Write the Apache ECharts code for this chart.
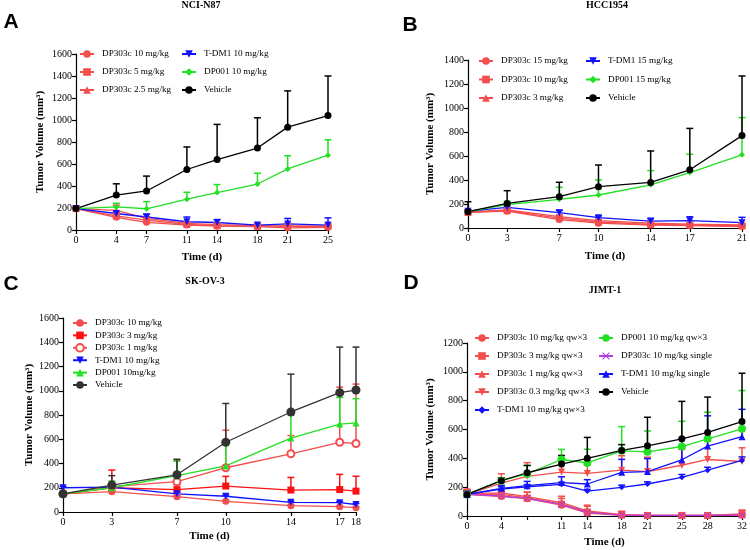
<!DOCTYPE html>
<html><head><meta charset="utf-8">
<script src="https://cdn.jsdelivr.net/npm/echarts@6/dist/echarts.min.js"></script>
<style>html,body{margin:0;padding:0;background:#fff}#c{width:750px;height:550px}</style>
</head><body><div id="c"></div>
<script>
// ---------- data ----------
const daysA = [0, 4, 7, 11, 14, 18, 21, 25];
const daysB = [0, 3, 7, 10, 14, 17, 21];
const daysC = [0, 3, 7, 10, 14, 17, 18];
const daysD = [0, 4, 7, 11, 14, 18, 21, 25, 28, 32];
const labelsD = [0, 4, 11, 14, 18, 21, 25, 28, 32];

// Panel A: NCI-N87 (mean, upper SEM)
const a_dp10 = [195, 115, 70, 45, 35, 30, 20, 25];
const a_dp10_err = [8, 10, 8, 6, 5, 5, 5, 5];
const a_dp5 = [195, 128, 90, 50, 40, 35, 38, 35];
const a_dp5_err = [8, 15, 12, 8, 6, 5, 15, 10];
const a_dp25 = [195, 178, 105, 60, 48, 40, 35, 32];
const a_dp25_err = [8, 48, 15, 10, 8, 6, 6, 6];
const a_tdm1 = [195, 150, 118, 75, 68, 45, 55, 45];
const a_tdm1_err = [10, 15, 27, 43, 27, 12, 50, 65];
const a_dp001 = [195, 210, 193, 280, 340, 418, 555, 680];
const a_dp001_err = [10, 33, 65, 63, 73, 98, 120, 140];
const a_veh = [195, 318, 355, 550, 640, 745, 935, 1040];
const a_veh_err = [10, 102, 135, 205, 320, 275, 330, 360];

// Panel B: HCC1954
const b_dp15 = [130, 140, 70, 40, 25, 20, 12];
const b_dp15_err = [12, 8, 10, 8, 6, 6, 6];
const b_dp10 = [130, 145, 82, 50, 30, 25, 18];
const b_dp10_err = [15, 10, 12, 10, 8, 8, 8];
const b_dp3 = [135, 150, 95, 62, 40, 32, 25];
const b_dp3_err = [15, 10, 14, 12, 10, 8, 8];
const b_tdm1 = [140, 172, 128, 86, 58, 61, 44];
const b_tdm1_err = [10, 10, 20, 15, 20, 33, 45];
const b_dp001 = [136, 195, 239, 275, 360, 462, 610];
const b_dp001_err = [10, 28, 100, 125, 118, 153, 310];
const b_veh = [136, 205, 261, 344, 380, 485, 770];
const b_veh_err = [83, 106, 120, 181, 262, 345, 497];

// Panel C: SK-OV-3
const c_dp10 = [150, 168, 126, 88, 52, 44, 36];
const c_dp10_err = [10, 8, 10, 8, 6, 6, 6];
const c_dp3 = [150, 200, 185, 214, 181, 185, 172];
const c_dp3_err = [10, 146, 40, 80, 104, 125, 123];
const c_dp1 = [150, 210, 250, 365, 480, 575, 565];
const c_dp1_err = [10, 40, 175, 310, 150, 455, 490];
const c_tdm1 = [200, 205, 150, 130, 80, 77, 62];
const c_tdm1_err = [10, 10, 12, 10, 8, 8, 8];
const c_dp001 = [150, 200, 300, 380, 610, 725, 735];
const c_dp001_err = [10, 55, 120, 180, 190, 220, 200];
const c_veh = [150, 222, 307, 575, 825, 984, 1006];
const c_veh_err = [10, 78, 128, 320, 312, 376, 354];

// Panel D: JIMT-1
const d_dp10 = [150, 135, 120, 75, 20, 5, 3, 3, 3, 5];
const d_dp10_err = [30, 15, 20, 20, 15, 8, 5, 5, 5, 8];
const d_dp3 = [150, 150, 125, 82, 28, 8, 4, 4, 4, 10];
const d_dp3_err = [35, 25, 40, 40, 40, 25, 15, 10, 10, 30];
const d_dp1 = [155, 160, 135, 92, 35, 10, 5, 5, 5, 15];
const d_dp1_err = [30, 20, 30, 45, 40, 20, 12, 8, 8, 25];
const d_dp03 = [150, 228, 275, 305, 295, 318, 308, 352, 392, 378];
const d_dp03_err = [30, 65, 95, 70, 60, 100, 100, 110, 130, 95];
const d_tdm1q = [150, 187, 203, 220, 173, 199, 222, 268, 318, 385];
const d_tdm1q_err = [20, 15, 15, 15, 12, 15, 15, 20, 20, 25];
const d_dp001 = [150, 245, 292, 392, 368, 452, 445, 482, 535, 605];
const d_dp001_err = [20, 20, 60, 70, 95, 168, 145, 175, 185, 265];
const d_single = [150, 140, 122, 80, 25, 6, 4, 4, 4, 6];
const d_single_err = [25, 15, 15, 15, 10, 6, 4, 4, 4, 6];
const d_tdm1s = [150, 192, 210, 232, 222, 303, 308, 390, 485, 550];
const d_tdm1s_err = [20, 20, 30, 40, 30, 90, 90, 150, 210, 190];
const d_veh = [150, 245, 300, 360, 400, 455, 487, 535, 580, 655];
const d_veh_err = [20, 20, 50, 60, 145, 40, 198, 260, 245, 335];

// ---------- styles ----------
const RED = '#f34e4e', RED2 = '#ff1010', BLUE = '#1212ff', GREEN = '#22e022',
      BLACK = '#000000', GREY = '#333333', PURPLE = '#b23de6';
const SERIF = '"Liberation Serif","Times New Roman",serif';
const XSYM = 'path://M0,1L1,0L5,4L9,0L10,1L6,5L10,9L9,10L5,6L1,10L0,9L4,5Z';

const series = [];
function add(gi, tag, name, days, mean, err, color, symbol, size, extra) {
  const full = tag + '|' + name;
  series.push(Object.assign({
    type: 'line', name: full, xAxisIndex: gi, yAxisIndex: gi,
    data: days.map((d, i) => [d, mean[i]]),
    symbol: symbol, symbolSize: size,
    lineStyle: { color: color, width: 1.3 },
    itemStyle: { color: color },
    emphasis: { disabled: true }, animation: false, z: 3
  }, extra || {}));
  series.push({
    type: 'custom', name: 'err-' + full, xAxisIndex: gi, yAxisIndex: gi,
    data: days.map((d, i) => [d, mean[i], mean[i] + err[i]]),
    encode: { x: 0, y: [1, 2] }, animation: false, z: 2,
    renderItem: function (params, api) {
      const p1 = api.coord([api.value(0), api.value(1)]);
      const p2 = api.coord([api.value(0), api.value(2)]);
      return { type: 'group', children: [
        { type: 'line', shape: { x1: p1[0], y1: p1[1], x2: p2[0], y2: p2[1] }, style: { stroke: color, lineWidth: 1.5 } },
        { type: 'line', shape: { x1: p2[0] - 3.5, y1: p2[1], x2: p2[0] + 3.5, y2: p2[1] }, style: { stroke: color, lineWidth: 1.5 } }
      ]};
    }
  });
  return full;
}

// Panel A
const A1 = [
  add(0, 'A', 'DP303c 10 mg/kg', daysA, a_dp10, a_dp10_err, RED, 'circle', 7),
  add(0, 'A', 'DP303c 5 mg/kg', daysA, a_dp5, a_dp5_err, RED, 'rect', 7),
  add(0, 'A', 'DP303c 2.5 mg/kg', daysA, a_dp25, a_dp25_err, RED, 'triangle', 7)];
const A2 = [
  add(0, 'A', 'T-DM1 10 mg/kg', daysA, a_tdm1, a_tdm1_err, BLUE, 'triangle', 7, { symbolRotate: 180 }),
  add(0, 'A', 'DP001 10 mg/kg', daysA, a_dp001, a_dp001_err, GREEN, 'diamond', 6),
  add(0, 'A', 'Vehicle', daysA, a_veh, a_veh_err, BLACK, 'circle', 7)];
// Panel B
const B1 = [
  add(1, 'B', 'DP303c 15 mg/kg', daysB, b_dp15, b_dp15_err, RED, 'circle', 7),
  add(1, 'B', 'DP303c 10 mg/kg', daysB, b_dp10, b_dp10_err, RED, 'rect', 7),
  add(1, 'B', 'DP303c 3 mg/kg', daysB, b_dp3, b_dp3_err, RED, 'triangle', 7)];
const B2 = [
  add(1, 'B', 'T-DM1 15 mg/kg', daysB, b_tdm1, b_tdm1_err, BLUE, 'triangle', 7, { symbolRotate: 180 }),
  add(1, 'B', 'DP001 15 mg/kg', daysB, b_dp001, b_dp001_err, GREEN, 'diamond', 6),
  add(1, 'B', 'Vehicle', daysB, b_veh, b_veh_err, BLACK, 'circle', 7)];
// Panel C
const C1 = [
  add(2, 'C', 'DP303c 10 mg/kg', daysC, c_dp10, c_dp10_err, RED, 'circle', 7),
  add(2, 'C', 'DP303c 3 mg/kg', daysC, c_dp3, c_dp3_err, RED2, 'rect', 7),
  add(2, 'C', 'DP303c 1 mg/kg', daysC, c_dp1, c_dp1_err, RED, 'emptyCircle', 7),
  add(2, 'C', 'T-DM1 10 mg/kg', daysC, c_tdm1, c_tdm1_err, BLUE, 'triangle', 7, { symbolRotate: 180 }),
  add(2, 'C', 'DP001 10mg/kg', daysC, c_dp001, c_dp001_err, GREEN, 'triangle', 7),
  add(2, 'C', 'Vehicle', daysC, c_veh, c_veh_err, GREY, 'circle', 9)];
// Panel D
const D1 = [
  add(3, 'D', 'DP303c 10 mg/kg qw×3', daysD, d_dp10, d_dp10_err, RED, 'circle', 7),
  add(3, 'D', 'DP303c 3 mg/kg qw×3', daysD, d_dp3, d_dp3_err, RED, 'rect', 7),
  add(3, 'D', 'DP303c 1 mg/kg qw×3', daysD, d_dp1, d_dp1_err, RED, 'triangle', 7),
  add(3, 'D', 'DP303c 0.3 mg/kg qw×3', daysD, d_dp03, d_dp03_err, RED, 'triangle', 7, { symbolRotate: 180 }),
  add(3, 'D', 'T-DM1 10 mg/kg qw×3', daysD, d_tdm1q, d_tdm1q_err, BLUE, 'diamond', 6)];
const D2 = [
  add(3, 'D', 'DP001 10 mg/kg qw×3', daysD, d_dp001, d_dp001_err, GREEN, 'circle', 8),
  add(3, 'D', 'DP303c 10 mg/kg single', daysD, d_single, d_single_err, PURPLE, XSYM, 7),
  add(3, 'D', 'T-DM1 10 mg/kg single', daysD, d_tdm1s, d_tdm1s_err, BLUE, 'triangle', 7),
  add(3, 'D', 'Vehicle', daysD, d_veh, d_veh_err, BLACK, 'circle', 7)];

// ---------- layout ----------
const grids = [
  { left: 76, top: 54, width: 252, height: 176 },
  { left: 468, top: 60, width: 278, height: 168 },
  { left: 63, top: 318, width: 293, height: 194 },
  { left: 467, top: 343, width: 275, height: 173 }];
const yMax = [1600, 1400, 1600, 1200];
const xMax = [25, 21, 18, 32];
const xTicks = [daysA, daysB, daysC, daysD];
const xLabels = [daysA, daysB, daysC, labelsD];
const yGap = [30, 32, 28, 31];
const xGap = [22, 23, 19, 21];

const nameStyle = { fontFamily: SERIF, fontSize: 11, fontWeight: 'bold', color: '#000' };
const xAxis = grids.map((g, i) => ({
  type: 'value', gridIndex: i, min: 0, max: xMax[i],
  axisLine: { show: true, onZero: false, lineStyle: { color: '#000', width: 1.2 } },
  axisTick: { show: true, length: 4, customValues: xTicks[i], lineStyle: { color: '#000', width: 1.2 } },
  axisLabel: { customValues: xLabels[i], fontFamily: SERIF, fontSize: 10, color: '#000', margin: 5 },
  splitLine: { show: false },
  name: 'Time (d)', nameLocation: 'middle', nameGap: xGap[i], nameTextStyle: nameStyle
}));
const yAxis = grids.map((g, i) => ({
  type: 'value', gridIndex: i, min: 0, max: yMax[i], interval: 200,
  axisLine: { show: true, onZero: false, lineStyle: { color: '#000', width: 1.2 } },
  axisTick: { show: true, length: 4, lineStyle: { color: '#000', width: 1.2 } },
  axisLabel: { formatter: v => String(v), fontFamily: SERIF, fontSize: 10, color: '#000', margin: 4 },
  splitLine: { show: false },
  name: 'Tumor Volume (mm³)', nameLocation: 'middle', nameGap: yGap[i], nameTextStyle: nameStyle
}));

function legend(data, left, top, gap) {
  return {
    data: data, orient: 'vertical', left: left, top: top, padding: 0,
    itemWidth: 14, itemHeight: 9.5, itemGap: gap, selectedMode: false,
    formatter: n => n.split('|')[1],
    textStyle: { fontFamily: SERIF, fontSize: 9.2, color: '#000', lineHeight: 10, padding: [0, 0, 0, 3] }
  };
}
const legends = [
  legend(A1, 79, 49, 8), legend(A2, 181, 49, 8),
  legend(B1, 478, 56, 8.5), legend(B2, 585, 56, 8.5),
  legend(C1, 72, 318, 2.4),
  legend(D1, 474, 333, 8), legend(D2, 598, 333, 8)];

function txt(t, x, y, font) {
  return { type: 'text', x: x, y: y, silent: true,
    style: { text: t, font: font, fill: '#000', textAlign: 'center', textVerticalAlign: 'middle' } };
}
const TF = 'bold 10px "Liberation Serif", serif';
const LF = 'bold 21px "Liberation Sans", Arial, sans-serif';
const graphic = [
  txt('NCI-N87', 201, 5, TF), txt('HCC1954', 607, 5, TF),
  txt('SK-OV-3', 205, 281, TF), txt('JIMT-1', 605, 290, TF),
  txt('A', 11, 22, LF), txt('B', 410, 25, LF), txt('C', 11, 284, LF), txt('D', 411, 283, LF)];

const chart = echarts.init(document.getElementById('c'), null, { renderer: 'canvas' });
chart.setOption({
  animation: false, backgroundColor: '#fff',
  grid: grids, xAxis: xAxis, yAxis: yAxis, legend: legends,
  graphic: graphic, series: series
});
</script></body></html>
